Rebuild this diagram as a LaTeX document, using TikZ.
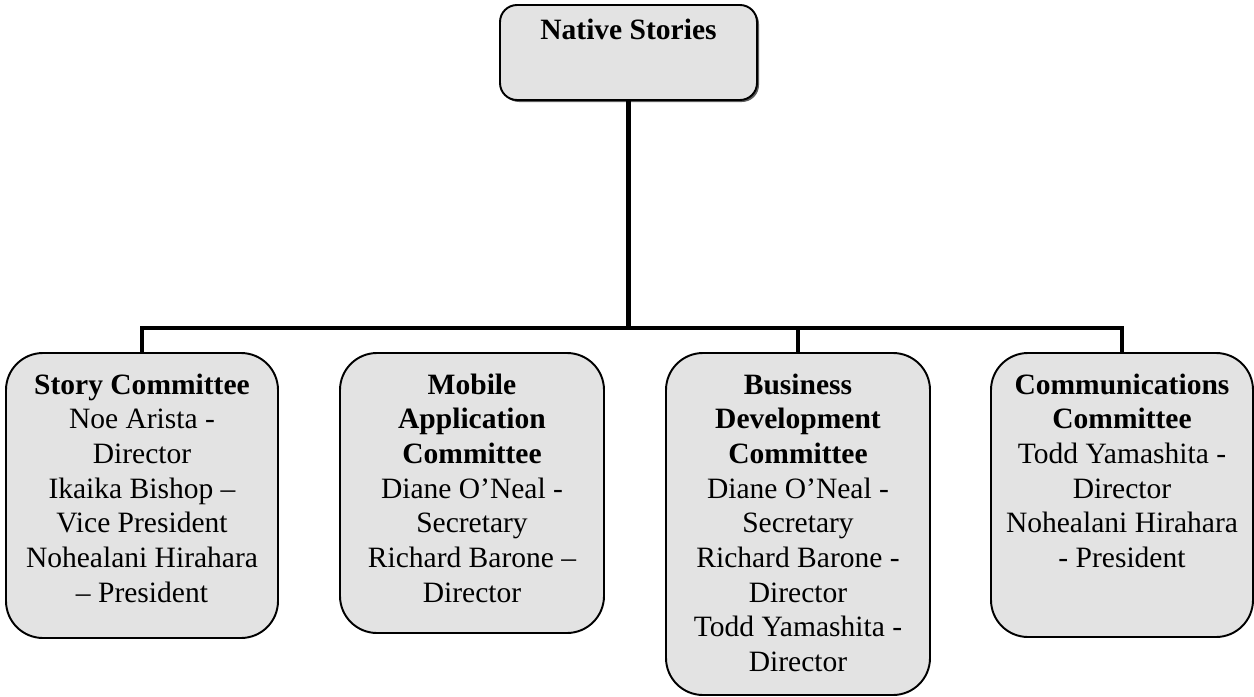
\documentclass[tikz,border=0pt]{standalone}
\usepackage{fontspec}
\setmainfont{Liberation Serif}
\usetikzlibrary{positioning,calc,shadows}

\begin{document}
\begin{tikzpicture}[
  x=1cm,y=1cm,font=\fontsize{16.8}{19.7}\selectfont,
  unit/.style={draw=black, line width=1.1pt, fill=black!11,
    rounded corners=0.74cm},
  head/.style={unit, rounded corners=0.34cm, minimum width=5.14cm,
    minimum height=1.9cm, drop shadow={shadow xshift=0.04cm,
    shadow yshift=-0.04cm, fill=black!80, opacity=0.8}},
  roster/.style={anchor=north, align=center, inner sep=0pt},
  link/.style={line width=2.3pt, draw=black}
]
  \useasboundingbox (0,0) rectangle (25.08,-13.94);

  \node[head] (root) at (12.57,-1.05) {};
  \node[roster] (roottxt) at ([yshift=-0.29cm]root.north)
    {\textbf{Native Stories}};

  \node[unit, minimum width=5.44cm, minimum height=5.70cm] (story)
    at (2.84,-9.91) {};
  \node[unit, minimum width=5.28cm, minimum height=5.60cm] (mobile)
    at (9.44,-9.86) {};
  \node[unit, minimum width=5.28cm, minimum height=6.84cm] (busdev)
    at (15.96,-10.48) {};
  \node[unit, minimum width=5.24cm, minimum height=5.68cm] (comms)
    at (22.44,-9.90) {};

  \node[roster] (storytxt) at ([yshift=-0.43cm]story.north)
    {\textbf{Story Committee}\\ Noe Arista -\\ Director\\
     Ikaika Bishop –\\ Vice President\\ Nohealani Hirahara\\ – President};
  \node[roster] (mobiletxt) at ([yshift=-0.43cm]mobile.north)
    {\textbf{Mobile}\\ \textbf{Application}\\ \textbf{Committee}\\
     Diane O’Neal -\\ Secretary\\ Richard Barone –\\ Director};
  \node[roster] (busdevtxt) at ([yshift=-0.43cm]busdev.north)
    {\textbf{Business}\\ \textbf{Development}\\ \textbf{Committee}\\
     Diane O’Neal -\\ Secretary\\ Richard Barone -\\ Director\\
     Todd Yamashita -\\ Director};
  \node[roster] (commstxt) at ([yshift=-0.43cm]comms.north)
    {\textbf{Communications}\\ \textbf{Committee}\\ Todd Yamashita -\\
     Director\\ Nohealani Hirahara\\ - President};

  % tree lines
  \coordinate (bus) at (0,-6.56);
  \draw[link] (root.south) -- (root.south |- bus);
  \draw[link] (story.north) -- (story.north |- bus)
    -- (comms.north |- bus) -- (comms.north);
  \draw[link] (busdev.north |- bus) -- (busdev.north);
\end{tikzpicture}
\end{document}
